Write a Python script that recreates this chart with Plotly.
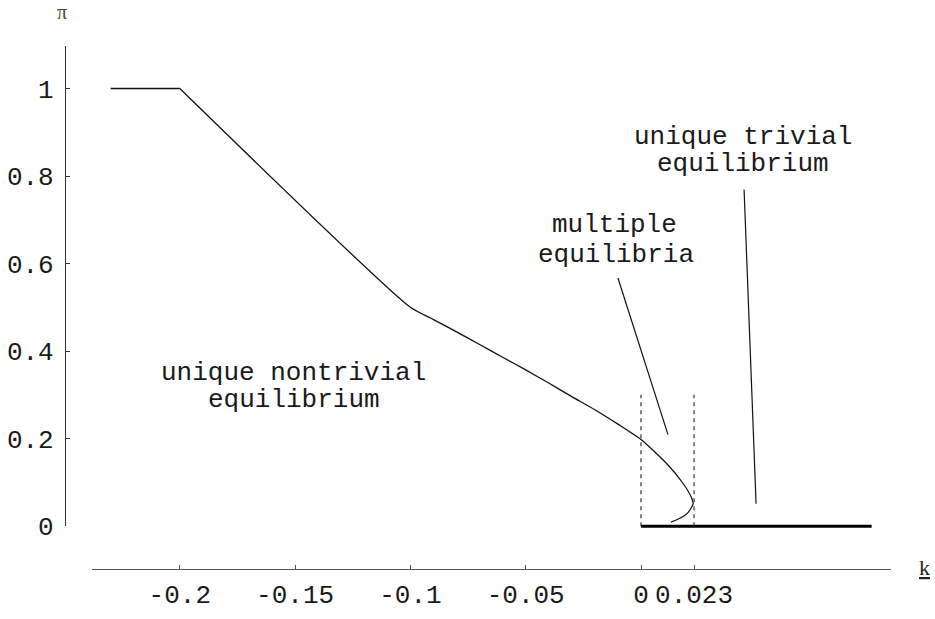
import plotly.graph_objects as go

# ---- data ----
flat_k = [-0.23, -0.2]
flat_pi = [1.0, 1.0]
curve_k = [-0.2, -0.1, -0.09, -0.08, -0.07, -0.06, -0.05, -0.04, -0.03, -0.02, -0.01, 0.0,
           0.0113, 0.0182, 0.022, 0.0226, 0.0204, 0.0169, 0.013]
curve_pi = [1.0, 0.5, 0.472, 0.444, 0.415, 0.386, 0.357, 0.327, 0.296, 0.266, 0.233, 0.198,
            0.142, 0.098, 0.064, 0.051, 0.031, 0.018, 0.009]
trivial_k = [0.0, 0.1]
trivial_pi = [0.0, 0.0]
bound_k = [0.0, 0.023]
bound_top = 0.3
pointer_multi_k = [-0.01, 0.0117]
pointer_multi_pi = [0.567, 0.209]
pointer_triv_k = [0.0447, 0.0499]
pointer_triv_pi = [0.769, 0.051]

x_tickvals = [-0.2, -0.15, -0.1, -0.05, 0.0, 0.023]
x_ticktext = ["-0.2", "-0.15", "-0.1", "-0.05", "0", "0.023"]
y_tickvals = [0.0, 0.2, 0.4, 0.6, 0.8, 1.0]
y_ticktext = ["0", "0.2", "0.4", "0.6", "0.8", "1"]

labels = ["unique trivial", "equilibrium", "multiple", "equilibria", "unique nontrivial", "equilibrium"]
label_k = [0.0442, 0.0442, -0.0117, -0.0108, -0.1505, -0.1505]
label_pi = [0.889, 0.827, 0.687, 0.620, 0.351, 0.289]

# ---- layout geometry (pixels) ----
W, H = 935, 619
px0, pxscale = 641, 2306.0   # pixel of k=0, pixels per unit k
py0, pyscale = 541, 450.0    # pixel of pi=0, pixels per unit pi

def kx(p):
    return (p - px0) / pxscale

def py(p):
    return (py0 - p) / pyscale

MONO = "Liberation Mono"
fig = go.Figure()

line_col = "#111111"
fig.add_trace(go.Scatter(x=flat_k, y=flat_pi, mode="lines",
                         line=dict(color=line_col, width=1.3), showlegend=False))
fig.add_trace(go.Scatter(x=curve_k, y=curve_pi, mode="lines",
                         line=dict(color=line_col, width=1.3, shape="spline", smoothing=0.6),
                         showlegend=False))
fig.add_trace(go.Scatter(x=trivial_k, y=trivial_pi, mode="lines",
                         line=dict(color="#000000", width=3), showlegend=False))
for bk in bound_k:
    fig.add_trace(go.Scatter(x=[bk, bk], y=[0, bound_top], mode="lines",
                             line=dict(color="#333333", width=1.2, dash="4px,4px"),
                             showlegend=False))
fig.add_trace(go.Scatter(x=pointer_multi_k, y=pointer_multi_pi, mode="lines",
                         line=dict(color=line_col, width=1.2), showlegend=False))
fig.add_trace(go.Scatter(x=pointer_triv_k, y=pointer_triv_pi, mode="lines",
                         line=dict(color=line_col, width=1.2), showlegend=False))

# invisible trace for the visible axes subplot
fig.add_trace(go.Scatter(x=[0], y=[0], xaxis="x2", yaxis="y2", mode="markers",
                         marker=dict(opacity=0), showlegend=False, hoverinfo="skip"))

for t, xk, yp in zip(labels, label_k, label_pi):
    fig.add_annotation(x=xk, y=yp, text=t, showarrow=False, xanchor="center", yanchor="middle",
                       font=dict(family=MONO, size=26, color="#1a1a1a"))

fig.add_annotation(x=62 / W, y=1.0, xref="paper", yref="paper", text="π", showarrow=False,
                   xanchor="center", yanchor="top", borderpad=0,
                   font=dict(family="Liberation Serif", size=20, color="#444444"))
fig.add_annotation(x=924 / W, y=1 - 584 / H, xref="paper", yref="paper", text="<u>k</u>",
                   showarrow=False, xanchor="center", yanchor="middle",
                   font=dict(family="Liberation Serif", size=22, color="#222222"))

fig.update_layout(
    autosize=True, margin=dict(l=0, r=0, t=0, b=0),
    paper_bgcolor="white", plot_bgcolor="rgba(0,0,0,0)",
    xaxis=dict(domain=[0, 1], range=[kx(0), kx(W)], visible=False, fixedrange=True),
    yaxis=dict(domain=[0, 1], range=[py(H), py(0)], visible=False, fixedrange=True),
    xaxis2=dict(domain=[92 / W, 891 / W], range=[kx(92), kx(891)], anchor="free",
                position=1 - 585 / H, showline=True, linecolor="#555555", linewidth=1.2,
                ticks="inside", ticklen=4, tickcolor="#555555", tickvals=x_tickvals,
                ticktext=x_ticktext, showgrid=False, zeroline=False,
                tickfont=dict(family=MONO, size=26, color="#1a1a1a"), ticklabelstandoff=2),
    yaxis2=dict(domain=[1 - 541 / H, 1 - 47 / H], range=[0, py(47)], anchor="free",
                position=65 / W, showline=True, linecolor="#333333", linewidth=1.2,
                ticks="inside", ticklen=4, tickcolor="#333333", tickvals=y_tickvals,
                ticktext=y_ticktext, showgrid=False, zeroline=False,
                tickfont=dict(family=MONO, size=26, color="#1a1a1a"), ticklabelstandoff=6),
)

fig.write_html("out.html", config={"displayModeBar": False, "responsive": True},
               default_width="100vw", default_height="100vh",
               post_script="document.body.style.margin='0';document.body.style.overflow='hidden';"
                           "window.dispatchEvent(new Event('resize'));")
